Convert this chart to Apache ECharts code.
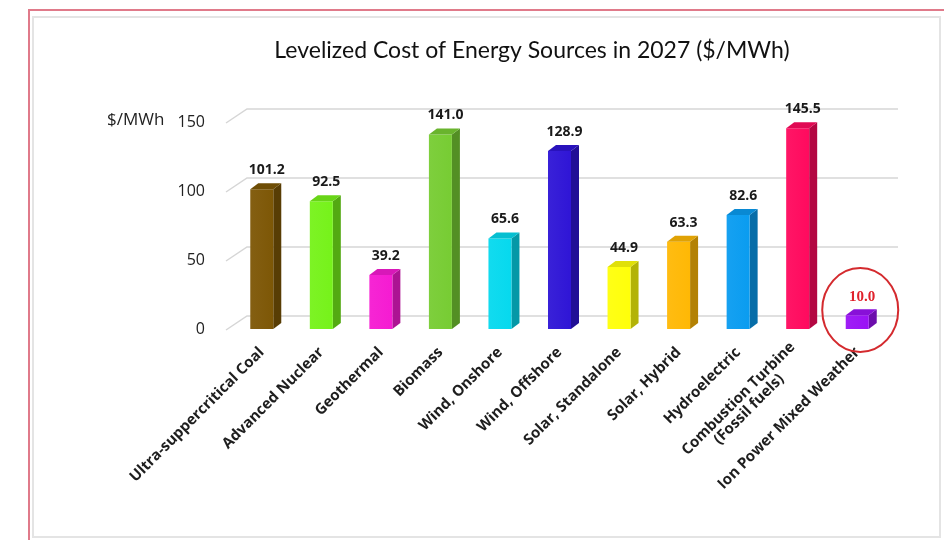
<!DOCTYPE html>
<html><head><meta charset="utf-8">
<script src="https://cdn.jsdelivr.net/npm/echarts@6/dist/echarts.min.js"></script>
<style>html,body{margin:0;padding:0;background:#fff}#c{width:944px;height:540px}</style>
</head><body><div id="c"></div>
<script>
const categories = ['Ultra-suppercritical Coal','Advanced Nuclear','Geothermal','Biomass','Wind, Onshore','Wind, Offshore','Solar, Standalone','Solar, Hybrid','Hydroelectric','Combustion Turbine\n(Fossil fuels)','Ion Power Mixed Weather'];
const values = [101.2, 92.5, 39.2, 141.0, 65.6, 128.9, 44.9, 63.3, 82.6, 145.5, 10.0];
const barColors = ['#7d5706','#76f21a','#f51bd2','#77cc33','#06d9ee','#2f15d6','#ffff0a','#ffb805','#0a9cf0','#ff0a5e','#9a12f5'];
const yTicks = [0, 50, 100, 150];
const title = 'Levelized Cost of Energy Sources in 2027 ($/MWh)';
const unitLabel = '$/MWh';

function shade(hex, f) {
  const n = parseInt(hex.slice(1), 16);
  let r = (n >> 16) & 255, g = (n >> 8) & 255, b = n & 255;
  if (f < 0) { r *= (1 + f); g *= (1 + f); b *= (1 + f); }
  else { r += (255 - r) * f; g += (255 - g) * f; b += (255 - b) * f; }
  return 'rgb(' + Math.round(r) + ',' + Math.round(g) + ',' + Math.round(b) + ')';
}

const chart = echarts.init(document.getElementById('c'));
const W = 23, DX = 8, DY = -6;
const lastIdx = values.length - 1;

chart.setOption({
  backgroundColor: '#fff',
  animation: false,
  title: {
    text: title, left: 527, top: 34, textAlign: 'center',
    textStyle: { fontFamily: 'Lato', fontSize: 23, fontWeight: 'normal', color: '#111' }
  },
  graphic: [
    { type: 'rect', shape: { x: 29, y: 10, width: 940, height: 560 }, style: { fill: 'none', stroke: '#e07a8a', lineWidth: 2 }, silent: true },
    { type: 'rect', shape: { x: 33, y: 17, width: 907, height: 520 }, style: { fill: 'none', stroke: '#e4e4e4', lineWidth: 2 }, silent: true },
    { type: 'text', left: 107, top: 112, style: { text: unitLabel, fontFamily: 'Open Sans', fontSize: 17, fill: '#222' }, silent: true }
  ],
  grid: { left: 232, right: 57, top: 122, bottom: 211 },
  xAxis: {
    type: 'category', data: categories,
    axisLine: { show: false }, axisTick: { show: false },
    axisLabel: {
      interval: 0, rotate: 45, margin: 21,
      fontFamily: 'Open Sans', fontSize: 15, fontWeight: 'bold', color: '#1e1e1e',
      formatter: function (v) {
        return v.split('\n').map(function (s) { return '{a|' + s + '}'; }).join('\n');
      },
      rich: { a: { align: 'center', fontFamily: 'Open Sans', fontSize: 15, fontWeight: 'bold', color: '#1e1e1e', lineHeight: 15 } }
    }
  },
  yAxis: {
    type: 'value', min: 0, max: 150, interval: 50,
    axisLine: { show: false }, axisTick: { show: false }, splitLine: { show: false },
    axisLabel: { margin: 27, fontFamily: 'Open Sans', fontSize: 16, color: '#222' }
  },
  series: [
    {
      type: 'custom', z: 1, silent: true,
      data: yTicks.map(function (t) { return [0, t]; }),
      renderItem: function (params, api) {
        const cs = params.coordSys;
        const y = api.coord([0, api.value(1)])[1];
        const bx = cs.x + 15, by = y - 13;
        return {
          type: 'polyline',
          shape: { points: [[cs.x - 6, y + 1], [bx, by], [cs.x + cs.width + 11, by]] },
          style: { stroke: '#d6d6d6', lineWidth: 1.5, fill: null }
        };
      }
    },
    {
      type: 'custom', z: 5, silent: true,
      data: values.map(function (v, i) { return [i, v]; }),
      renderItem: function (params, api) {
        const i = params.dataIndex;
        const v = api.value(1);
        const base = api.coord([api.value(0), 0]);
        const top = api.coord([api.value(0), v]);
        const x0 = base[0] - W / 2;
        const c = barColors[i];
        const children = [
          { type: 'polygon', shape: { points: [[x0 + W, top[1]], [x0 + W + DX, top[1] + DY], [x0 + W + DX, base[1] + DY], [x0 + W, base[1]]] }, style: { fill: shade(c, -0.3) } },
          { type: 'rect', shape: { x: x0, y: top[1], width: W, height: base[1] - top[1] },
            style: { fill: new echarts.graphic.LinearGradient(0, 0, 1, 0, [{ offset: 0, color: shade(c, 0.05) }, { offset: 1, color: c }]) } },
          { type: 'polygon', shape: { points: [[x0, top[1]], [x0 + DX, top[1] + DY], [x0 + W + DX, top[1] + DY], [x0 + W, top[1]]] }, style: { fill: shade(c, -0.12) } }
        ];
        const special = i === lastIdx;
        children.push({
          type: 'text',
          style: {
            x: x0 + (W + DX) / 2 + 1, y: top[1] + DY - (special ? 12 : 13),
            text: v.toFixed(1), align: 'center', verticalAlign: 'middle',
            fontFamily: special ? 'Liberation Serif' : 'Open Sans', fontWeight: 'bold',
            fontSize: special ? 15 : 14, fill: special ? '#e0222c' : '#1a1a1a'
          }
        });
        if (special) {
          children.push({ type: 'ellipse', shape: { cx: base[0] + 3, cy: base[1] - 19, rx: 38, ry: 42 }, style: { fill: 'none', stroke: '#d42a2e', lineWidth: 2 } });
        }
        return { type: 'group', children: children };
      }
    }
  ]
});
</script></body></html>
